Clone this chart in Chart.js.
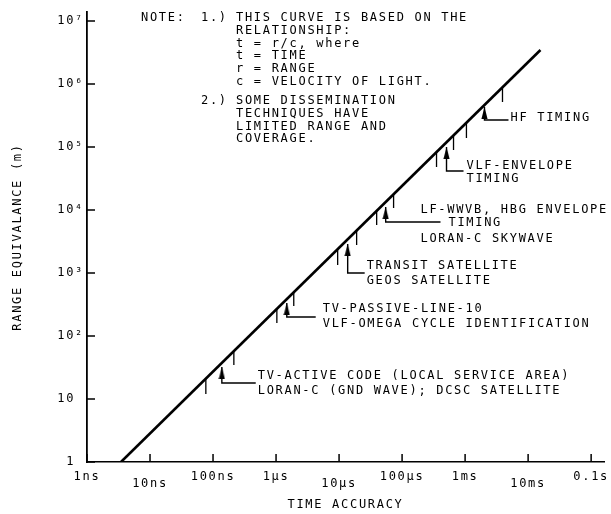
<!doctype html>
<html lang="en">
<head>
<meta charset="utf-8">
<title>Range equivalence vs time accuracy</title>
<style>
  * { margin: 0; padding: 0; }
  body { background: #fff; }
  #chart { display: block; }
</style>
</head>
<body>
<canvas id="chart" width="611" height="514"></canvas>
<script src="https://cdn.jsdelivr.net/npm/chart.js"></script>
<script>
// axis ticks
const xTickValues = [1e-9, 1e-8, 1e-7, 1e-6, 1e-5, 1e-4, 1e-3, 1e-2, 1e-1];
const xTickLabels = ['1ns', '10ns', '100ns', '1µs', '10µs', '100µs', '1ms', '10ms', '0.1s'];
const yTickValues = [1, 10, 1e2, 1e3, 1e4, 1e5, 1e6, 1e7];
const yTickLabels = ['1 ', '10 ', '10²', '10³', '10⁴', '10⁵', '10⁶', '10⁷'];

// the t = r/c line, read at its two ends (seconds, metres)
const lineTime = [3.46e-9, 1.57e-2];
const lineRange = [1, 3.47e6];

// short range marks hanging under the line
const markTime   = [7.69e-8, 2.14e-7, 1.03e-6, 1.91e-6, 9.5e-6, 1.90e-5, 3.95e-5, 7.33e-5, 3.52e-4, 6.55e-4, 1.05e-3, 3.92e-3];
const markTop    = [20.8, 57.8, 268, 499, 2404, 4816, 9640, 17950, 83300, 149500, 240400, 896000];
const markBottom = [12.0, 34.6, 161, 299, 1340, 2782, 5780, 10760, 48150, 89600, 139000, 518000];

// arrows: tip near the line, down to the elbow, across to the label
const arrowTime  = [1.38e-7, 1.48e-6, 1.37e-5, 5.49e-5, 5.07e-4, 2.03e-3];
const arrowTip   = [32.2, 334, 2886, 11160, 1.0e5, 431500];
const arrowElbow = [17.9, 200, 1000, 6450, 41600, 268300];
const arrowEnd   = [4.76e-7, 4.26e-6, 2.55e-5, 4.07e-4, 9.44e-4, 4.88e-3];
const arrowText = [
  ['TV-ACTIVE CODE (LOCAL SERVICE AREA)', 'LORAN-C (GND WAVE); DCSC SATELLITE'],
  ['TV-PASSIVE-LINE-10', 'VLF-OMEGA CYCLE IDENTIFICATION'],
  ['TRANSIT SATELLITE', 'GEOS SATELLITE'],
  ['LF-WWVB, HBG ENVELOPE', 'TIMING', 'LORAN-C SKYWAVE'],
  ['VLF-ENVELOPE', 'TIMING'],
  ['HF TIMING']
];

const noteText = [
  ['NOTE:', '1.)', 'THIS CURVE IS BASED ON THE'],
  ['', '', 'RELATIONSHIP:'],
  ['', '', 't = r/c, where'],
  ['', '', 't = TIME'],
  ['', '', 'r = RANGE'],
  ['', '', 'c = VELOCITY OF LIGHT.'],
  ['', '2.)', 'SOME DISSEMINATION'],
  ['', '', 'TECHNIQUES HAVE'],
  ['', '', 'LIMITED RANGE AND'],
  ['', '', 'COVERAGE.']
];

// label placement (pixels from the end of each leader)
const labelOffsets = [
  [[2, -7], [2, 8]],
  [[7, -8], [7, 7]],
  [[2, -7], [2, 8]],
  [[-20, -12], [8, 1], [-20, 17]],
  [[3, -5], [3, 8]],
  [[2, -2]]
];
const noteCols = [54, 114, 149];
const noteRows = [6, 18.7, 31.4, 44.1, 56.8, 69.5, 89, 101.7, 114.4, 127.1];

const family = '"DejaVu Sans Mono", monospace';
const ink = '#000';
const spacing = '1.7px';

// narrow filled arrowhead, tip at the centre of the image
const arrowHead = document.createElement('canvas');
arrowHead.width = 7;
arrowHead.height = 24;
const ah = arrowHead.getContext('2d');
ah.fillStyle = ink;
ah.beginPath();
ah.moveTo(3.5, 12);
ah.lineTo(6.6, 24);
ah.lineTo(0.4, 24);
ah.closePath();
ah.fill();

const markData = [];
markTime.forEach((t, i) => {
  markData.push({x: t, y: markTop[i]}, {x: t, y: markBottom[i]}, {x: t, y: null});
});

const leaderSets = arrowTime.map((t, i) => ({
  data: [
    {x: t, y: arrowTip[i]},
    {x: t, y: arrowElbow[i]},
    {x: arrowEnd[i], y: arrowElbow[i]}
  ],
  showLine: true,
  borderColor: ink,
  borderWidth: 1.4,
  pointStyle: c => c.dataIndex === 0 ? arrowHead : false,
  pointRadius: c => c.dataIndex === 0 ? 3 : 0
}));

const paperPlugin = {
  id: 'paper',
  beforeLayout(chart) { chart.ctx.letterSpacing = spacing; },
  beforeDraw(chart) { chart.ctx.letterSpacing = spacing; },
  afterDraw(chart) {
    const {ctx, scales: {x, y}, chartArea: a} = chart;
    ctx.save();
    ctx.letterSpacing = spacing;
    ctx.strokeStyle = ink;
    ctx.lineWidth = 1.5;
    // tick marks point into the plot
    ctx.beginPath();
    xTickValues.forEach(v => {
      const px = x.getPixelForValue(v);
      ctx.moveTo(px, a.bottom);
      ctx.lineTo(px, a.bottom - 8);
    });
    yTickValues.forEach(v => {
      const py = y.getPixelForValue(v);
      ctx.moveTo(a.left, py);
      ctx.lineTo(a.left + 8, py);
    });
    ctx.stroke();

    ctx.fillStyle = ink;
    ctx.font = '12px ' + family;
    ctx.textBaseline = 'middle';
    ctx.textAlign = 'left';
    arrowText.forEach((lines, i) => {
      const ex = x.getPixelForValue(arrowEnd[i]);
      const ey = y.getPixelForValue(arrowElbow[i]);
      lines.forEach((s, j) => {
        const [dx, dy] = labelOffsets[i][j];
        ctx.fillText(s, ex + dx, ey + dy);
      });
    });
    noteText.forEach((row, r) => {
      row.forEach((s, c) => {
        if (s) ctx.fillText(s, a.left + noteCols[c], a.top + noteRows[r]);
      });
    });
    ctx.restore();
  }
};

const config = {
  type: 'scatter',
  data: {
    datasets: [
      {
        data: lineTime.map((t, i) => ({x: t, y: lineRange[i]})),
        showLine: true,
        borderColor: ink,
        borderWidth: 2.6,
        pointRadius: 0
      },
      {
        data: markData,
        showLine: true,
        spanGaps: false,
        borderColor: ink,
        borderWidth: 1.3,
        pointRadius: 0
      },
      ...leaderSets
    ]
  },
  options: {
    responsive: false,
    animation: false,
    layout: { padding: { top: 12, right: 7, left: 0, bottom: 0 } },
    plugins: { legend: { display: false }, tooltip: { enabled: false } },
    scales: {
      x: {
        type: 'logarithmic',
        min: 1e-9,
        max: 0.16,
        afterBuildTicks: s => { s.ticks = xTickValues.map(v => ({value: v})); },
        afterFit: s => { s.height = 52; s.paddingLeft = 0; s.paddingRight = 0; },
        grid: { display: true, drawOnChartArea: false, drawTicks: false },
        border: { display: true, color: ink, width: 1.6 },
        ticks: {
          padding: 7.4,
          color: ink,
          maxRotation: 0,
          autoSkip: false,
          callback: (v, i) => xTickLabels[i],
          font: c => ({ family, size: 12, lineHeight: c.index % 3 === 1 ? 2.35 : 1.2 })
        },
        title: {
          display: true,
          text: 'TIME ACCURACY',
          color: ink,
          font: { family, size: 12, lineHeight: 1.2 },
          padding: { top: 0, bottom: 1.8 }
        }
      },
      y: {
        type: 'logarithmic',
        min: 1,
        max: 1.39e7,
        afterBuildTicks: s => { s.ticks = yTickValues.map(v => ({value: v})); },
        afterFit: s => { s.width = 87; s.paddingTop = 0; s.paddingBottom = 0; },
        grid: { display: true, drawOnChartArea: false, drawTicks: false },
        border: { display: true, color: ink, width: 1.8 },
        ticks: {
          padding: 3,
          color: ink,
          autoSkip: false,
          callback: (v, i) => yTickLabels[i],
          font: { family, size: 12, lineHeight: 1.2 }
        },
        title: {
          display: true,
          text: 'RANGE EQUIVALANCE (m)',
          color: ink,
          font: { family, size: 12, lineHeight: 1.2 },
          padding: { top: 10.8, bottom: 0 }
        }
      }
    }
  },
  plugins: [paperPlugin]
};

const myChart = new Chart(document.getElementById('chart'), config);
</script>
</body>
</html>
